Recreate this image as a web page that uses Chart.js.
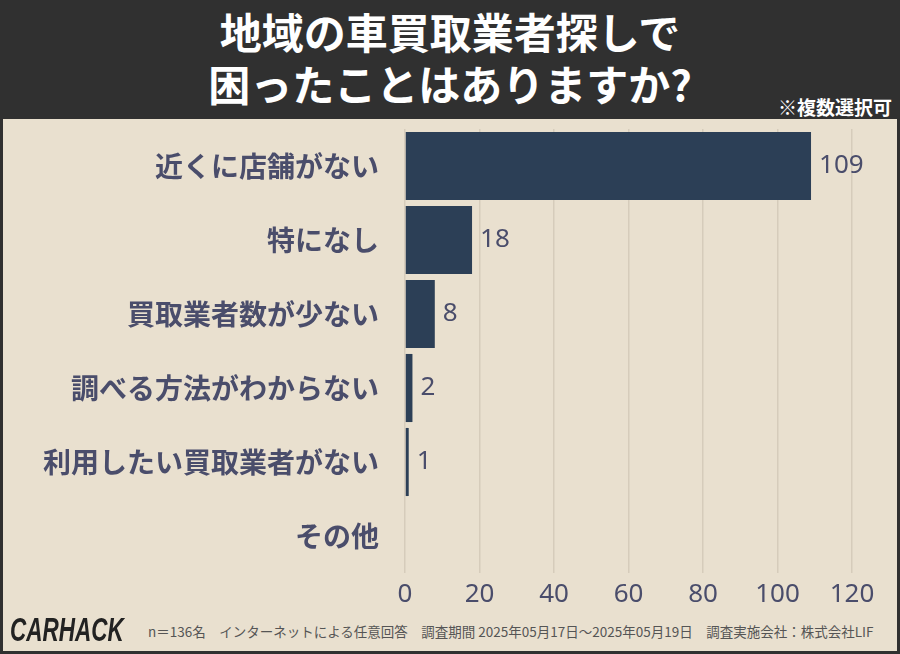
<!DOCTYPE html><html><head><meta charset="utf-8">
<script src="https://cdn.jsdelivr.net/npm/chart.js@4"></script>
<style>
body{margin:0;width:900px;height:654px;background:#303030;position:relative;overflow:hidden;font-family:"Noto Sans CJK JP";}
#title{position:absolute;left:0;top:5px;width:900px;text-align:center;color:#fff;font-weight:bold;font-size:42px;line-height:52px;}
#note{position:absolute;right:8px;top:93px;color:#fff;font-weight:bold;font-size:19px;}
#panel{position:absolute;left:3px;top:119px;width:894px;height:532px;background:#e9e0cf;}
#wrap{position:absolute;left:3px;top:119px;width:894px;height:493px;}
#logo{position:absolute;left:10px;top:611px;font-family:"Liberation Sans","DejaVu Sans";font-weight:bold;font-style:italic;font-size:30px;color:#222;transform-origin:0 0;transform:scale(0.75,1.1);}
#foot{position:absolute;left:148px;top:621px;font-size:13.5px;color:#555;white-space:pre;}
</style></head><body>
<div id="title">地域の車買取業者探しで<br>困ったことはありますか?</div>
<div id="note">※複数選択可</div>
<div id="panel"></div>
<div id="wrap"><canvas id="c"></canvas></div>
<div id="logo">CARHACK</div>
<div id="foot">n＝136名　インターネットによる任意回答　調査期間 2025年05月17日〜2025年05月19日　調査実施会社：株式会社LIF</div>
<script>
const categories=["近くに店舗がない","特になし","買取業者数が少ない","調べる方法がわからない","利用したい買取業者がない","その他"];
const values=[109,18,8,2,1,0];
const tickValues=[0,20,40,60,80,100,120];
const txt="#4a4d6b";
const valueLabels={id:"vl",afterDatasetsDraw(ch){const ctx=ch.ctx;const m=ch.getDatasetMeta(0);ctx.save();ctx.font="26px 'Noto Sans'";ctx.fillStyle=txt;ctx.textBaseline="middle";m.data.forEach((b,i)=>{if(values[i]>0)ctx.fillText(String(values[i]),b.x+8,b.y);});ctx.restore();}};
new Chart(document.getElementById("c"),{type:"bar",data:{labels:categories,datasets:[{data:values,backgroundColor:"#2c3f56",categoryPercentage:1,barPercentage:0.92}]},
options:{indexAxis:"y",responsive:true,maintainAspectRatio:false,animation:false,
layout:{padding:{top:10,right:45,left:0,bottom:0}},
plugins:{legend:{display:false},tooltip:{enabled:false}},
scales:{y:{afterFit(s){s.width=402;s.paddingTop=0;s.paddingBottom=0;},grid:{display:false},border:{display:false},ticks:{color:txt,font:{family:"Noto Sans CJK JP",size:28,weight:"bold"},padding:18}},
x:{min:0,max:120,afterBuildTicks(s){s.ticks=tickValues.map(v=>({value:v}));},afterFit(s){s.height=39;s.paddingLeft=0;s.paddingRight=0;},grid:{color:"#d6ccbb",lineWidth:1.5,drawTicks:false},border:{display:false},ticks:{color:txt,font:{family:"Noto Sans",size:26},padding:6}}}},
plugins:[valueLabels]});
</script></body></html>
